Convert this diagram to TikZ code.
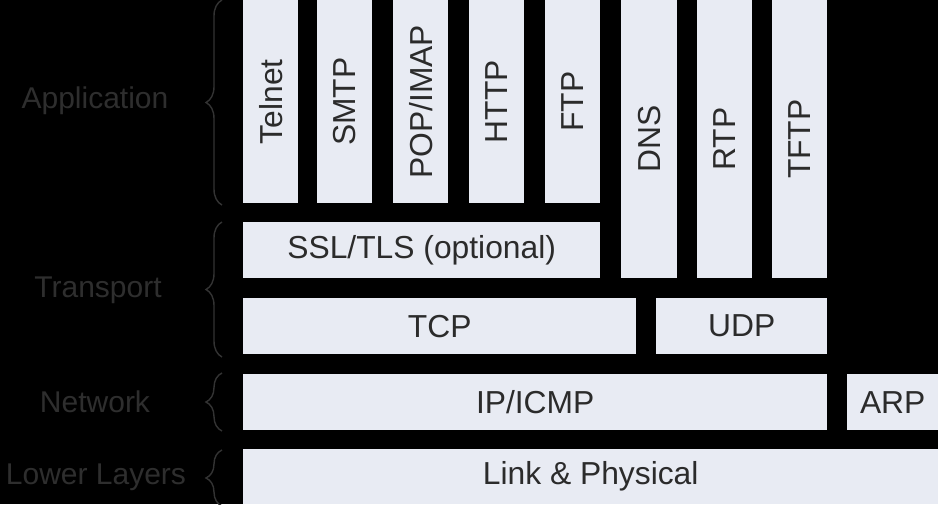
\documentclass[tikz,border=0pt]{standalone}
\usepackage{fontspec}
\setmainfont{Liberation Sans}
\usetikzlibrary{decorations.pathreplacing}
\definecolor{boxfill}{HTML}{E8EBF3}
\definecolor{boxtext}{HTML}{2B2B2B}
\definecolor{dimtext}{HTML}{2E2E2E}
\definecolor{dimline}{HTML}{333333}
\begin{document}
\begin{tikzpicture}[x=1pt,y=-1pt,
  box/.style={fill=boxfill, draw=none, inner sep=0pt, text=boxtext,
    font=\fontsize{31.8}{36}\selectfont, anchor=north west},
  vbox/.style={box, rotate=90, anchor=north east},
  lbl/.style={text=dimtext, font=\fontsize{30}{34}\selectfont, anchor=center},
  brc/.style={draw=dimline, line width=1.4pt, decorate,
    decoration={brace, amplitude=16pt}}]
\fill[black] (0,0) rectangle (938,504);
\useasboundingbox (0,0) rectangle (938,504);
% application (vertical boxes): rotate=90 -> width is height on screen
\node[vbox, minimum width=203pt, minimum height=55pt] (telnet) at (243,0) {Telnet};
\node[vbox, minimum width=203pt, minimum height=55pt] (smtp) at (317,0) {SMTP};
\node[vbox, minimum width=203pt, minimum height=55pt] (pop) at (393,0) {POP/IMAP};
\node[vbox, minimum width=203pt, minimum height=55pt] (http) at (469,0) {HTTP};
\node[vbox, minimum width=203pt, minimum height=55pt] (ftp) at (545,0) {FTP};
\node[vbox, minimum width=278pt, minimum height=56pt] (dns) at (621,0) {DNS};
\node[vbox, minimum width=278pt, minimum height=55pt] (rtp) at (697,0) {RTP};
\node[vbox, minimum width=278pt, minimum height=55pt] (tftp) at (772,0) {TFTP};
% horizontal boxes
\node[box, minimum width=357pt, minimum height=56pt] (ssl) at (243,222) {SSL/TLS (optional)};
\node[box, minimum width=393pt, minimum height=56pt] (tcp) at (243,298) {TCP};
\node[box, minimum width=171pt, minimum height=56pt] (udp) at (656,298) {UDP};
\node[box, minimum width=584pt, minimum height=56pt] (ip) at (243,374) {IP/ICMP};
\node[box, minimum width=91pt, minimum height=56pt] (arp) at (847,374) {ARP};
\node[box, minimum width=695pt, minimum height=55pt] (link) at (243,449) {Link \& Physical};
% layer labels
\node[lbl] (lapp) at (95,101) {Application};
\node[lbl] (ltr) at (98,290) {Transport};
\node[lbl] (lnet) at (95,402) {Network};
\node[lbl] (llow) at (96,477) {Lower Layers};
% braces
\coordinate (a1) at (222,205); \coordinate (a2) at (222,0);
\coordinate (t1) at (222,357); \coordinate (t2) at (222,222);
\coordinate (n1) at (222,431); \coordinate (n2) at (222,373);
\coordinate (w1) at (222,506); \coordinate (w2) at (222,450);
\draw[brc] (a1) -- (a2);
\draw[brc] (t1) -- (t2);
\draw[brc] (n1) -- (n2);
\draw[brc] (w1) -- (w2);
\end{tikzpicture}
\end{document}
